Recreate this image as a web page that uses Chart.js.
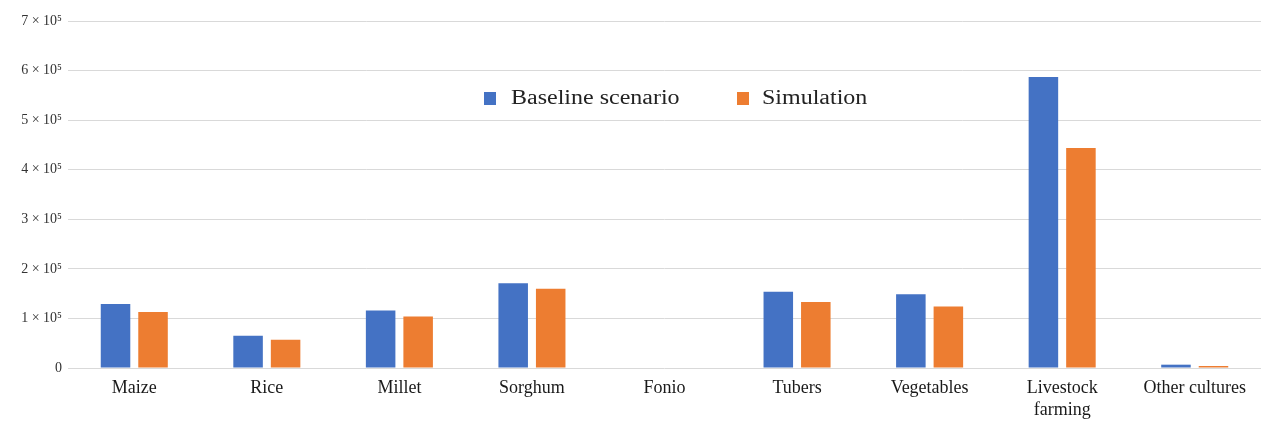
<!DOCTYPE html>
<html>
<head>
<meta charset="utf-8">
<script src="https://cdn.jsdelivr.net/npm/chart.js@4/dist/chart.umd.min.js"></script>
<style>
  html, body { margin: 0; padding: 0; background: #fff; overflow: hidden; }
  #wrap { position: relative; width: 1261px; height: 421px; }
  .legend { position: absolute; top: 86px; font: 20px "Liberation Serif", serif; color: #222; white-space: nowrap; }
  .legend span.box { position: absolute; top: 6px; width: 12px; height: 13px; }
  .legend span.txt { display: inline-block; transform: scaleX(1.2); transform-origin: left center; }
</style>
</head>
<body>
<div id="wrap">
  <canvas id="chart"></canvas>
  <div class="legend" style="left:484px"><span class="box" style="background:#4472C4"></span><span class="txt" style="margin-left:27px">Baseline scenario</span></div>
  <div class="legend" style="left:737px"><span class="box" style="background:#ED7D31"></span><span class="txt" style="margin-left:25px">Simulation</span></div>
</div>
<script>
const categories = ['Maize', 'Rice', 'Millet', 'Sorghum', 'Fonio', 'Tubers', 'Vegetables', ['Livestock', 'farming'], 'Other cultures'];
const baseline = [129000, 65000, 116000, 171000, 0, 154000, 149000, 587000, 6700];
const simulation = [113000, 57000, 104000, 160000, 0, 133000, 124000, 444000, 4000];
const yTicks = [0, 100000, 200000, 300000, 400000, 500000, 600000, 700000];

function tickLabel(v) {
  if (v === 0) return '0';
  return `${v / 100000} × 10⁵`;
}

new Chart(document.getElementById('chart'), {
  type: 'bar',
  data: {
    labels: categories,
    datasets: [
      { label: 'Baseline scenario', data: baseline, backgroundColor: '#4472C4' },
      { label: 'Simulation', data: simulation, backgroundColor: '#ED7D31' }
    ]
  },
  options: {
    responsive: true,
    maintainAspectRatio: false,
    animation: false,
    layout: { padding: { top: 21, right: 0, left: 0, bottom: 0 } },
    datasets: { bar: { categoryPercentage: 0.566, barPercentage: 0.787 } },
    plugins: { legend: { display: false }, tooltip: { enabled: false } },
    scales: {
      x: {
        afterFit: s => { s.height = 53; },
        grid: { display: false, drawTicks: false },
        border: { display: false },
        ticks: {
          color: '#1a1a1a',
          padding: 9,
          maxRotation: 0,
          autoSkip: false,
          font: { family: '"Liberation Serif", serif', size: 18, lineHeight: 1.25 }
        }
      },
      y: {
        min: 0,
        max: 700000,
        afterFit: s => { s.width = 68; },
        afterBuildTicks: s => { s.ticks = yTicks.map(v => ({ value: v })); },
        grid: { color: '#d9d9d9', drawTicks: false, lineWidth: 1 },
        border: { display: false },
        ticks: {
          color: '#333',
          padding: 6,
          callback: v => tickLabel(v),
          font: { family: '"Liberation Serif", serif', size: 14 }
        }
      }
    }
  }
});
</script>
</body>
</html>
